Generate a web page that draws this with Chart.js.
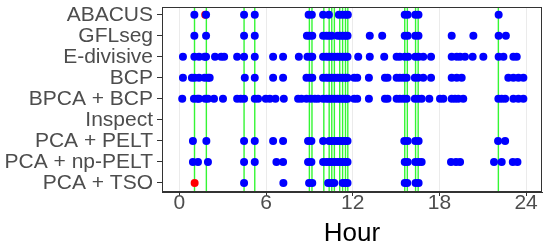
<!DOCTYPE html>
<html>
<head>
<meta charset="utf-8">
<script src="https://cdn.jsdelivr.net/npm/chart.js@4.4.1/dist/chart.umd.min.js"></script>
<style>
html,body{margin:0;padding:0;background:#fff;}
canvas{display:block;}
</style>
</head>
<body>
<canvas id="c" width="550" height="250"></canvas>
<script>
const methods = ["ABACUS","GFLseg","E-divisive","BCP","BPCA + BCP","Inspect","PCA + PELT","PCA + np-PELT","PCA + TSO"];
const xTickValues = [0,6,12,18,24];

const abacus = [1.04,1.85,4.48,5.22,8.95,9.17,9.95,10.35,11.04,11.27,11.5,11.66,15.6,15.8,16.33,16.55,22.1];
const gflseg = [1.04,1.85,4.48,5.22,8.83,9.0,9.2,9.95,10.18,10.37,10.55,10.95,11.13,11.32,11.5,11.64,13.18,14.04,15.6,15.8,16.33,16.55,18.85,20.35,22.1,22.6];
const edivisive = [0.25,1.04,1.36,1.75,1.85,2.47,2.9,3.1,4.0,4.48,5.22,6.49,7.18,8.27,8.87,9.1,9.2,9.95,10.18,10.37,10.55,10.75,10.95,11.13,11.32,11.5,11.64,12.38,13.18,14.18,15.04,15.26,15.6,15.84,16.33,16.56,16.88,17.42,18.85,19.2,19.43,19.77,20.3,21.04,22.1,22.43,23.12,23.35];
const bcp = [0.25,0.87,1.06,1.36,1.75,1.98,2.1,4.53,5.22,6.49,7.18,8.8,9.04,9.2,9.95,10.18,10.37,10.55,10.75,10.95,11.13,11.32,11.5,11.64,12.1,12.31,13.12,14.23,14.41,15.04,15.26,15.5,15.73,16.3,16.53,16.88,17.42,18.85,19.2,19.54,22.77,23.12,23.47,23.81];
const bpcaBcp = [0.2,1.01,1.25,1.36,1.8,1.98,2.4,3.02,4.0,4.25,4.48,5.22,5.45,5.98,6.26,6.65,7.23,8.22,8.45,8.8,9.1,9.38,9.6,9.95,10.18,10.37,10.55,10.75,10.95,11.13,11.32,11.5,11.64,12.1,12.31,13.12,14.23,14.41,15.04,15.26,15.5,15.73,16.3,16.53,16.77,17.3,18.04,18.27,18.85,19.08,19.31,19.65,22.08,22.31,22.55,23.12,23.47,23.81];
const inspect = [];
const pcaPelt = [0.94,1.87,4.48,5.22,6.49,7.18,8.91,9.14,9.95,10.37,10.55,10.75,10.95,11.13,11.32,11.5,11.64,15.57,15.8,16.33,16.56,22.06,22.55];
const pcaNpPelt = [0.94,1.29,1.98,4.48,5.22,6.72,7.18,8.91,9.14,9.95,10.18,10.37,10.55,10.75,10.95,11.13,11.32,11.5,11.64,15.6,15.8,16.33,16.56,16.77,18.8,19.15,19.43,21.78,22.31,23.08,23.4];
const pcaTso = [4.48,7.2,8.98,9.2,10.3,10.53,10.72,11.3,11.48,11.64,15.6,15.77,16.35,16.56];

const redAbacus = [1.79];
const redTso = [1.06];

const trueChanges = [1.05,1.87,4.48,5.22,9.0,9.18,10.0,10.37,10.55,10.73,11.1,11.3,11.5,11.66,15.6,15.78,16.35,16.53,22.08];

const blueRows = [abacus,gflseg,edivisive,bcp,bpcaBcp,inspect,pcaPelt,pcaNpPelt,pcaTso];
const redRows = [redAbacus,[],[],[],[],[],[],[],redTso];

const bluePts = [];
blueRows.forEach((arr,i)=>arr.forEach(h=>bluePts.push({x:h,y:i})));
const redPts = [];
redRows.forEach((arr,i)=>arr.forEach(h=>redPts.push({x:h,y:i})));

const vlinePlugin = {
  id:'vlines',
  beforeDatasetsDraw(chart){
    const {ctx, chartArea, scales} = chart;
    ctx.save();
    ctx.beginPath();
    ctx.rect(chartArea.left, chartArea.top, chartArea.right-chartArea.left, chartArea.bottom-chartArea.top);
    ctx.clip();
    ctx.strokeStyle = 'rgba(30,245,30,0.9)';
    ctx.lineWidth = 1.4;
    trueChanges.forEach(h=>{
      const px = scales.x.getPixelForValue(h);
      ctx.beginPath();
      ctx.moveTo(px, chartArea.top);
      ctx.lineTo(px, chartArea.bottom);
      ctx.stroke();
    });
    ctx.restore();
  },
  afterDraw(chart){
    const {ctx, chartArea} = chart;
    ctx.save();
    ctx.strokeStyle = '#333333';
    ctx.lineWidth = 1;
    ctx.strokeRect(chartArea.left+0.5, chartArea.top+0.5, chartArea.right-chartArea.left-1, chartArea.bottom-chartArea.top-1);
    ctx.restore();
  }
};

new Chart(document.getElementById('c'), {
  type:'scatter',
  data:{
    datasets:[
      {data:bluePts, backgroundColor:'#0000FF', borderColor:'#0000FF', pointRadius:4, pointBorderWidth:0, pointHoverRadius:4},
      {data:redPts, backgroundColor:'#FF0000', borderColor:'#FF0000', pointRadius:4, pointBorderWidth:0, pointHoverRadius:4}
    ]
  },
  options:{
    responsive:false,
    animation:false,
    events:[],
    layout:{padding:{top:7,right:8,left:0,bottom:0}},
    plugins:{legend:{display:false},tooltip:{enabled:false}},
    scales:{
      x:{
        type:'linear',
        min:-1.2, max:25.1,
        afterBuildTicks(s){ s.ticks = xTickValues.map(v=>({value:v})); },
        afterFit(s){ s.height = 58; s.paddingLeft = 0; s.paddingRight = 0; },
        grid:{color:'#ebebeb', lineWidth:1, tickColor:'#333333', tickLength:4, drawTicks:true},
        border:{display:true, color:'#333333', width:1},
        ticks:{color:'#4d4d4d', font:{family:'"Liberation Sans", Arial, sans-serif', size:21, lineHeight:1}, padding:-3, maxRotation:0, autoSkip:false},
        title:{display:true, text:'Hour', color:'#000000', font:{family:'"Liberation Sans", Arial, sans-serif', size:26, lineHeight:1}, padding:{top:0,bottom:3}}
      },
      y:{
        type:'linear',
        reverse:true,
        min:-0.37, max:8.43,
        afterBuildTicks(s){ s.ticks = methods.map((m,i)=>({value:i})); },
        afterFit(s){ s.width = 162; s.paddingTop = 0; s.paddingBottom = 0; },
        grid:{drawOnChartArea:false, tickColor:'#333333', tickLength:5, drawTicks:true},
        border:{display:true, color:'#333333', width:1},
        ticks:{color:'#4d4d4d', font:{family:'"Liberation Sans", Arial, sans-serif', size:21, lineHeight:1}, padding:4, autoSkip:false,
          callback:(v)=>methods[v]}
      }
    }
  },
  plugins:[vlinePlugin]
});
</script>
</body>
</html>
